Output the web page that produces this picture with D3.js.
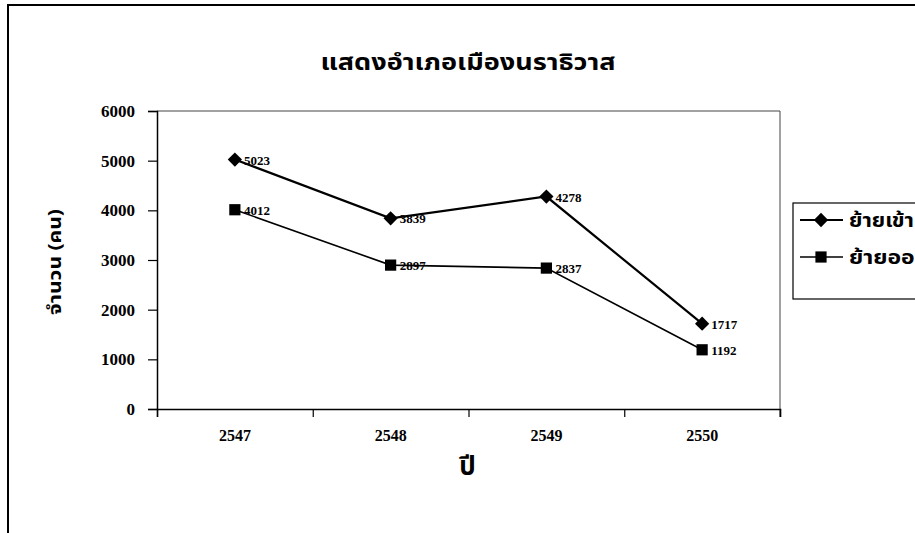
<!DOCTYPE html>
<html>
<head>
<meta charset="utf-8">
<script src="https://cdn.jsdelivr.net/npm/d3@7"></script>
<style>
  body { margin: 0; background: #fff; }
  svg text { fill: #000; }
  .thai { font-family: "Noto Sans Thai", "Loma", "Garuda", "Tlwg Typist", sans-serif; font-weight: bold; }
  .num { font-family: "Liberation Serif", "Times New Roman", serif; font-weight: bold; }
</style>
</head>
<body>
<svg id="chart" width="915" height="533"></svg>
<script>
var years = ['2547', '2548', '2549', '2550'];
var moveIn = [5023, 3839, 4278, 1717];
var moveOut = [4012, 2897, 2837, 1192];
var yTicks = [0, 1000, 2000, 3000, 4000, 5000, 6000];
var seriesNames = ['ย้ายเข้า', 'ย้ายออก'];

var svg = d3.select('#chart'),
    margin = {top: 111, right: 135, bottom: 124, left: 157},
    width = svg.attr('width') - margin.left - margin.right,
    height = svg.attr('height') - margin.top - margin.bottom;

// outer frame of the scanned chart
svg.append('path')
    .attr('d', 'M8,540 L8,5 L920,5')
    .attr('fill', 'none')
    .attr('stroke', '#000')
    .attr('stroke-width', 2);

svg.append('text')
    .attr('class', 'thai')
    .attr('x', 468)
    .attr('y', 70)
    .attr('text-anchor', 'middle')
    .attr('textLength', 295)
    .attr('lengthAdjust', 'spacingAndGlyphs')
    .style('font-size', '23px')
    .text('แสดงอำเภอเมืองนราธิวาส');

var g = svg.append('g')
    .attr('transform', 'translate(' + margin.left + ',' + margin.top + ')');

var x = d3.scaleBand().domain(years).range([0, width]).padding(0);
var xEdge = d3.scaleLinear().domain([0, years.length]).range([0, width]);
var y = d3.scaleLinear().domain([0, 6000]).range([height, 0]);

// plot area border (top and right)
g.append('path')
    .attr('d', 'M0,0 H' + width + ' V' + (height + 8))
    .attr('fill', 'none')
    .attr('stroke', '#444')
    .attr('stroke-width', 1);

// y axis
var yAxis = g.append('g')
    .call(d3.axisLeft(y).tickValues(yTicks).tickFormat(d3.format('d')).tickSize(9).tickPadding(13));
yAxis.select('.domain').attr('stroke', '#000').attr('stroke-width', 1.5);
yAxis.selectAll('line').attr('stroke', '#000').attr('stroke-width', 1.2);
yAxis.selectAll('text').attr('class', 'num').style('font-size', '17px');

// x axis: ticks at category edges
var xAxis = g.append('g')
    .attr('transform', 'translate(0,' + height + ')')
    .call(d3.axisBottom(xEdge).ticks(years.length).tickFormat('').tickSize(8));
xAxis.select('.domain').attr('stroke', '#000').attr('stroke-width', 1.5);
xAxis.selectAll('line').attr('stroke', '#000').attr('stroke-width', 1.2);

g.append('g').selectAll('text')
    .data(years)
    .enter()
    .append('text')
    .attr('class', 'num')
    .attr('x', d => x(d) + x.bandwidth() / 2)
    .attr('y', height + 32)
    .attr('text-anchor', 'middle')
    .style('font-size', '16px')
    .text(d => d);

g.append('text')
    .attr('class', 'thai')
    .attr('x', width / 2 - 1)
    .attr('y', height + 66)
    .attr('text-anchor', 'middle')
    .style('font-size', '26px')
    .text('ปี');

g.append('text')
    .attr('class', 'thai')
    .attr('transform', 'rotate(-90)')
    .attr('x', -(y(3000) + 2))
    .attr('y', -96)
    .attr('text-anchor', 'middle')
    .attr('textLength', 106)
    .attr('lengthAdjust', 'spacingAndGlyphs')
    .style('font-size', '17px')
    .text('จำนวน (คน)');

var line = d3.line()
    .x((d, i) => x(years[i]) + x.bandwidth() / 2)
    .y(d => y(d));

var diamond = d3.symbol().type(d3.symbolDiamond2).size(130);
var square = d3.symbol().type(d3.symbolSquare2).size(160);

function drawSeries(values, sym, lw) {
    g.append('path')
        .datum(values)
        .attr('fill', 'none')
        .attr('stroke', '#000')
        .attr('stroke-width', lw)
        .attr('d', line);

    g.append('g').selectAll('path')
        .data(values)
        .enter()
        .append('path')
        .attr('d', sym)
        .attr('transform', (d, i) => 'translate(' + (x(years[i]) + x.bandwidth() / 2) + ',' + y(d) + ')')
        .attr('fill', '#000');

    g.append('g').selectAll('text')
        .data(values)
        .enter()
        .append('text')
        .attr('class', 'num')
        .attr('x', (d, i) => x(years[i]) + x.bandwidth() / 2 + 9)
        .attr('y', d => y(d) + 5)
        .style('font-size', '13px')
        .text(d => d);
}

drawSeries(moveIn, diamond, 2.2);
drawSeries(moveOut, square, 1.6);

// legend
var leg = svg.append('g').attr('transform', 'translate(793,203)');
leg.append('rect')
    .attr('width', 140)
    .attr('height', 96)
    .attr('fill', '#fff')
    .attr('stroke', '#000')
    .attr('stroke-width', 1.2);

var legItems = leg.selectAll('g.item')
    .data(seriesNames)
    .enter()
    .append('g')
    .attr('class', 'item')
    .attr('transform', (d, i) => 'translate(0,' + (17 + i * 37) + ')');

legItems.append('line')
    .attr('x1', 7).attr('x2', 50)
    .attr('stroke', '#000')
    .attr('stroke-width', (d, i) => i === 0 ? 2.2 : 1.6);
legItems.append('path')
    .attr('d', (d, i) => i === 0 ? diamond() : square())
    .attr('transform', 'translate(28,0)')
    .attr('fill', '#000');
legItems.append('text')
    .attr('class', 'thai')
    .attr('x', 56)
    .attr('y', 7)
    .attr('textLength', (d, i) => i === 0 ? 65 : 80)
    .attr('lengthAdjust', 'spacingAndGlyphs')
    .style('font-size', '19px')
    .text(d => d);
</script>
</body>
</html>
